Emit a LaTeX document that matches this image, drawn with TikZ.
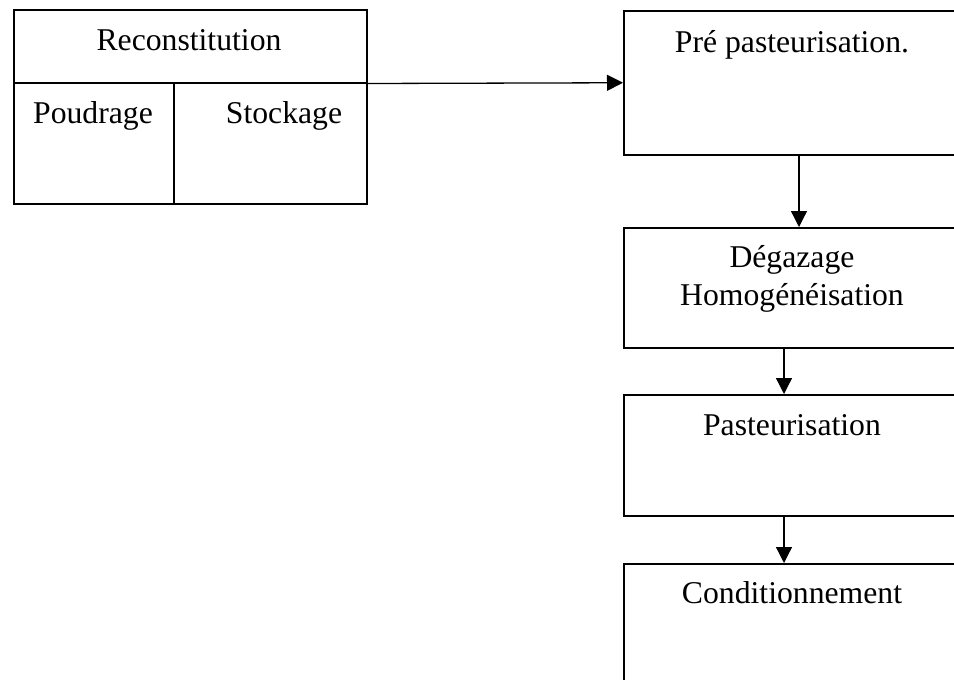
\documentclass[tikz,border=0pt]{standalone}
\usepackage{fontspec}
\setmainfont{Liberation Serif}
\usetikzlibrary{arrows.meta}
\begin{document}
\begin{tikzpicture}[x=1pt,y=-1pt,
  box/.style={draw,line width=1.5pt,rectangle,inner sep=0pt,anchor=north west},
  lbl/.style={anchor=base,inner sep=0pt,font=\fontsize{31.7}{38}\selectfont},
  arr/.style={line width=1.3pt,-{Triangle[length=16pt,width=16pt]}}]
\useasboundingbox (0,0) rectangle (954,680);
\clip (0,0) rectangle (954,680);
% left block: title cell over two sub-cells
\node[box,minimum width=353pt,minimum height=73pt] (recon) at (13,9) {};
\node[box,minimum width=160pt,minimum height=121pt] (poud) at (13,82) {};
\node[box,minimum width=193pt,minimum height=121pt] (stock) at (173,82) {};
\node[lbl] (trecon) at (189,50) {Reconstitution};
\node[lbl] (tpoud) at (93,123) {Poudrage};
\node[lbl] (tstock) at (284,123) {Stockage};
% process steps on the right
\node[box,minimum width=338pt,minimum height=144pt] (b1) at (623,10) {};
\node[box,minimum width=338pt,minimum height=120pt] (b2) at (623,227) {};
\node[box,minimum width=338pt,minimum height=121pt] (b3) at (623,394) {};
\node[box,minimum width=338pt,minimum height=140pt] (b4) at (623,563) {};
\node[lbl] (t1) at (792,52) {Pré pasteurisation.};
\node[lbl] (t2a) at (792,267) {Dégazage};
\node[lbl] (t2b) at (792,305) {Homogénéisation};
\node[lbl] (t3) at (792,435) {Pasteurisation};
\node[lbl] (t4) at (792,603) {Conditionnement};
% connectors
\draw[arr] (recon.south east) -- (b1.west);
\draw[arr] ([xshift=176pt]b1.south west) -- ([xshift=176pt]b2.north west);
\draw[arr] ([xshift=161pt]b2.south west) -- ([xshift=161pt]b3.north west);
\draw[arr] ([xshift=161pt]b3.south west) -- ([xshift=161pt]b4.north west);
\end{tikzpicture}
\end{document}
